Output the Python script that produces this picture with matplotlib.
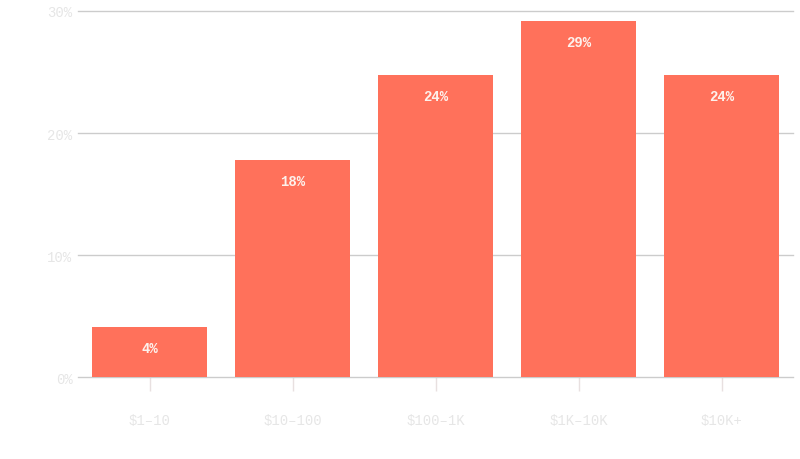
import matplotlib
matplotlib.use('Agg')
from matplotlib import pyplot as plt

# share of donations by size bucket
buckets = ['\\$1–10', '\\$10–100', '\\$100–1K', '\\$1K–10K', '\\$10K+']
shares = [4.1, 17.8, 24.75, 29.2, 24.75]
share_labels = ['4%', '18%', '24%', '29%', '24%']
y_ticks = [0, 10, 20, 30]
y_tick_labels = ['0%', '10%', '20%', '30%']

plt.rcParams['font.family'] = ['Liberation Mono', 'DejaVu Sans Mono']

fig = plt.figure(figsize=(8, 4.6), dpi=100)
ax = fig.add_axes([0.0975, 0.178, 0.894, 0.796])

x = list(range(len(buckets)))
bars = ax.bar(x, shares, width=0.8, color='#ff715b', zorder=2)

for b, lab in zip(bars, share_labels):
    ax.text(b.get_x() + b.get_width() / 2, b.get_height() - 1.75, lab,
            ha='center', va='center', color='#fdf1ec', fontsize=10,
            fontweight='bold', zorder=3)

ax.set_xlim(-0.5, len(buckets) - 0.5)
ax.set_ylim(0, 30)
ax.set_yticks(y_ticks)
ax.set_yticklabels(y_tick_labels)
ax.set_xticks(x)
ax.set_xticklabels(buckets)

ax.grid(axis='y', color='#cccccc', linewidth=1, zorder=0)
for gl in ax.get_ygridlines():
    gl.set_clip_on(False)
for s in ax.spines.values():
    s.set_visible(False)

ax.tick_params(axis='y', length=0, pad=4, labelcolor='#e6e6e6', labelsize=10)
ax.tick_params(axis='x', length=10, width=1, color='#e8e0e0', pad=16,
               labelcolor='#e6e6e6', labelsize=10)

fig.savefig('out.png', dpi=100)
